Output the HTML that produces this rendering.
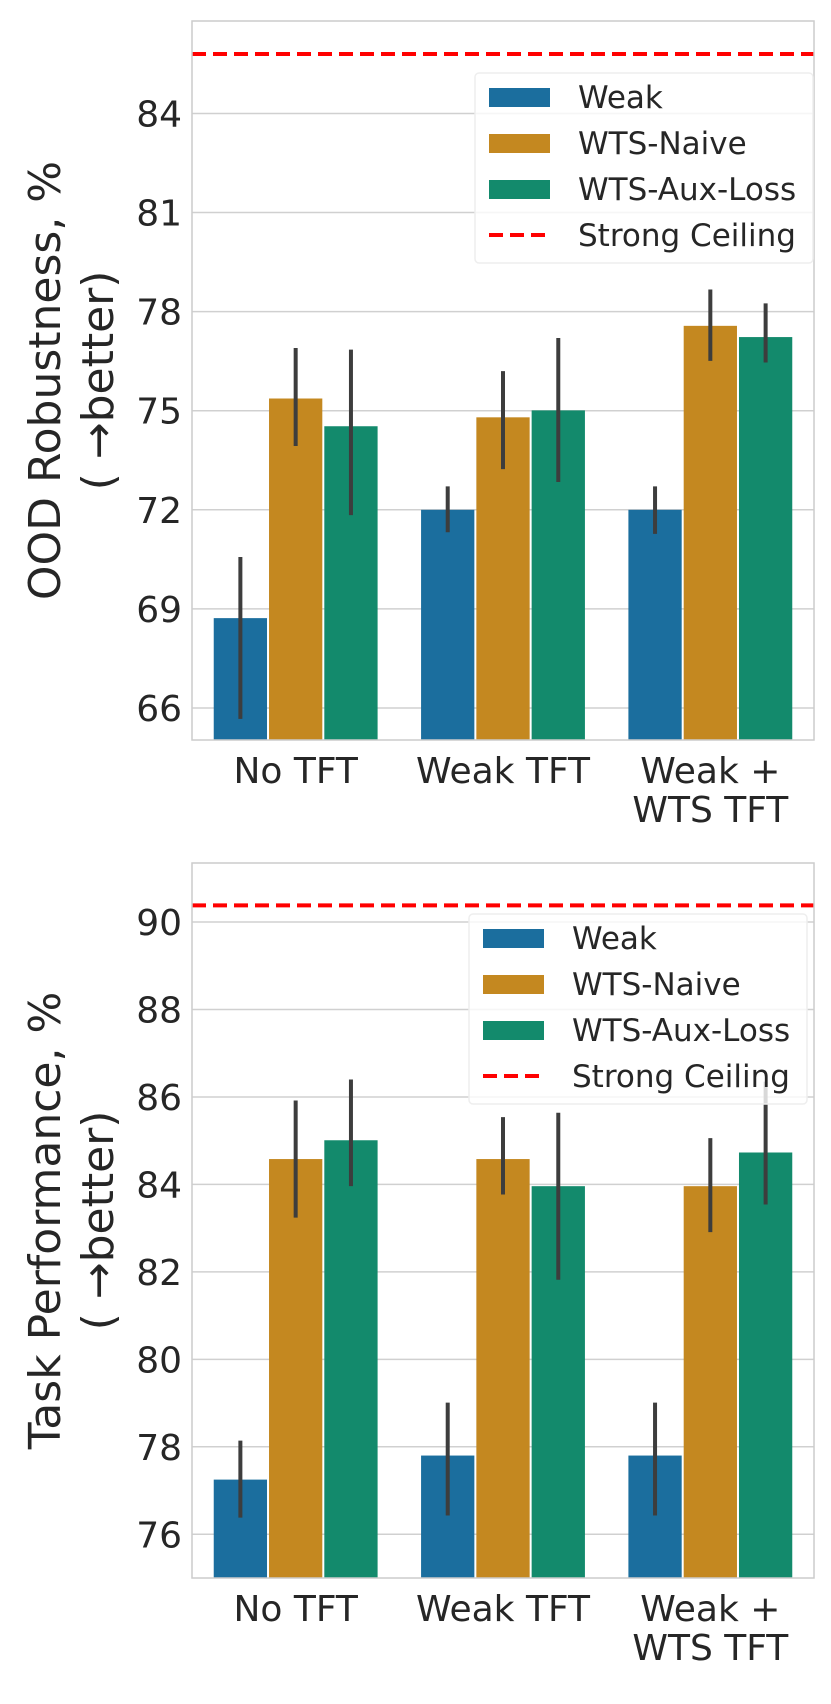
<!DOCTYPE html>
<html><head><meta charset="utf-8"><style>
html,body{margin:0;padding:0;background:#fff;}
svg{display:block;font-family:"DejaVu Sans","Liberation Sans",sans-serif;}
</style></head><body>
<svg id="chart" width="831" height="1704" viewBox="0 0 831 1704" xmlns="http://www.w3.org/2000/svg"></svg>
<script>
const categories = ["No TFT", "Weak TFT", "Weak +\nWTS TFT"];
const seriesNames = ["Weak", "WTS-Naive", "WTS-Aux-Loss"];
const seriesColors = ["#1b6e9e", "#c48820", "#138a6c"];
// Top chart: OOD robustness
const oodWeak = [68.72, 72.0, 72.0];
const oodWeakLo = [65.67, 71.32, 71.27];
const oodWeakHi = [70.57, 72.71, 72.71];
const oodNaive = [75.37, 74.8, 77.57];
const oodNaiveLo = [73.93, 73.23, 76.51];
const oodNaiveHi = [76.9, 76.2, 78.67];
const oodAux = [74.53, 75.01, 77.23];
const oodAuxLo = [71.84, 72.84, 76.46];
const oodAuxHi = [76.85, 77.2, 78.25];
const oodCeiling = 85.8;
const oodTicks = [66, 69, 72, 75, 78, 81, 84];
// Bottom chart: task performance
const taskWeak = [77.25, 77.8, 77.8];
const taskWeakLo = [76.38, 76.43, 76.43];
const taskWeakHi = [78.14, 79.01, 79.01];
const taskNaive = [84.58, 84.58, 83.96];
const taskNaiveLo = [83.24, 83.77, 82.91];
const taskNaiveHi = [85.92, 85.54, 85.06];
const taskAux = [85.01, 83.96, 84.73];
const taskAuxLo = [83.96, 81.82, 83.54];
const taskAuxHi = [86.40, 85.64, 86.35];
const taskCeiling = 90.38;
const taskTicks = [76, 78, 80, 82, 84, 86, 88, 90];

const NS = "http://www.w3.org/2000/svg";
const svg = document.getElementById("chart");
function mk(tag, attrs, parent) {
  const e = document.createElementNS(NS, tag);
  for (const k in attrs) e.setAttribute(k, attrs[k]);
  (parent || svg).appendChild(e);
  return e;
}

function drawPanel(cfg) {
  const g = mk("g", {});
  
  
  const L = 192, R = 814, T = cfg.top, B = cfg.bottom;
  const y = v => B - (v - cfg.ymin) / (cfg.ymax - cfg.ymin) * (B - T);
  const catW = (R - L) / categories.length;
  const barW = catW * 0.8 / 3;
  cfg.ticks.forEach(t => {
    const gl = mk("line", {x1: L, x2: R, y1: y(t), y2: y(t), stroke: "#d0d0d0", "stroke-width": 1.5}, g);
    
    
    const tl = mk("text", {x: L - 10, y: y(t) + 13, "text-anchor": "end", "font-size": 36, fill: "#262626"}, g);
    tl.textContent = t;
    
    
  });
  const vals = [cfg.weak, cfg.naive, cfg.aux];
  const los = [cfg.weakLo, cfg.naiveLo, cfg.auxLo];
  const his = [cfg.weakHi, cfg.naiveHi, cfg.auxHi];
  categories.forEach((c, i) => {
    for (let s = 0; s < 3; s++) {
      const x0 = L + i * catW + catW * 0.1 + s * barW;
      const r = mk("rect", {x: x0 + 1, y: y(vals[s][i]), width: barW - 2, height: B - y(vals[s][i]), fill: seriesColors[s]}, g);
      
      
      const cx = x0 + barW / 2;
      const el = mk("line", {x1: cx, x2: cx, y1: y(los[s][i]), y2: y(his[s][i]), stroke: "#3d3d3d", "stroke-width": 4}, g);
      
      
    }
    const lines = c.split("\n");
    const xt = mk("text", {x: L + (i + 0.5) * catW, y: B + 43, "text-anchor": "middle", "font-size": 36, fill: "#262626"}, g);
    
    
    lines.forEach((ln, k) => {
      const ts = mk("tspan", {x: L + (i + 0.5) * catW, dy: k ? 39 : 0}, xt);
      ts.textContent = ln;
    });
  });
  const cl = mk("line", {x1: L, x2: R, y1: y(cfg.ceiling), y2: y(cfg.ceiling), stroke: "#ff0000", "stroke-width": 4, "stroke-dasharray": "14 7"}, g);
  
  
  const fr = mk("rect", {x: L, y: T, width: R - L, height: B - T, fill: "none", stroke: "#cccccc", "stroke-width": 1.5}, g);
  
  
  const cy = (T + B) / 2;
  const yl = mk("text", {transform: "translate(60," + cy + ") rotate(-90)", "text-anchor": "middle", "font-size": 44, fill: "#262626"}, g);
  yl.textContent = cfg.ylabel;
  
  
  const yl2 = mk("text", {transform: "translate(113," + cy + ") rotate(-90)", "text-anchor": "middle", "font-size": 44, fill: "#262626"}, g);
  yl2.textContent = "( \u2192better)";
  
  
  const lg = mk("g", {}, g);
  
  
  const lb = mk("rect", {x: cfg.lx, y: cfg.ly, width: 338, height: 190, rx: 4, fill: "rgba(255,255,255,0.8)", stroke: "#eeeeee", "stroke-width": 1.5}, lg);
  
  
  const names = seriesNames.concat(["Strong Ceiling"]);
  names.forEach((n, k) => {
    const ry = cfg.ly + 24 + k * 46;
    let sw;
    if (k < 3) {
      sw = mk("rect", {x: cfg.lx + 14, y: ry - 9, width: 61, height: 19, fill: seriesColors[k]}, lg);
    } else {
      sw = mk("line", {x1: cfg.lx + 14, x2: cfg.lx + 75, y1: ry, y2: ry, stroke: "#ff0000", "stroke-width": 4, "stroke-dasharray": "14 7"}, lg);
    }
    
    
    const lt = mk("text", {x: cfg.lx + 103, y: ry + 11, "font-size": 31, fill: "#262626"}, lg);
    lt.textContent = n;
    
    
  });
}

drawPanel({name: "ood-robustness-chart", top: 21, bottom: 740, ymin: 65.03, ymax: 86.8,
  ticks: oodTicks, weak: oodWeak, weakLo: oodWeakLo, weakHi: oodWeakHi,
  naive: oodNaive, naiveLo: oodNaiveLo, naiveHi: oodNaiveHi,
  aux: oodAux, auxLo: oodAuxLo, auxHi: oodAuxHi, ceiling: oodCeiling,
  ylabel: "OOD Robustness, %", lx: 475, ly: 73});
drawPanel({name: "task-performance-chart", top: 863, bottom: 1578, ymin: 75.0, ymax: 91.35,
  ticks: taskTicks, weak: taskWeak, weakLo: taskWeakLo, weakHi: taskWeakHi,
  naive: taskNaive, naiveLo: taskNaiveLo, naiveHi: taskNaiveHi,
  aux: taskAux, auxLo: taskAuxLo, auxHi: taskAuxHi, ceiling: taskCeiling,
  ylabel: "Task Performance, %", lx: 469, ly: 914});
</script>
</body></html>
